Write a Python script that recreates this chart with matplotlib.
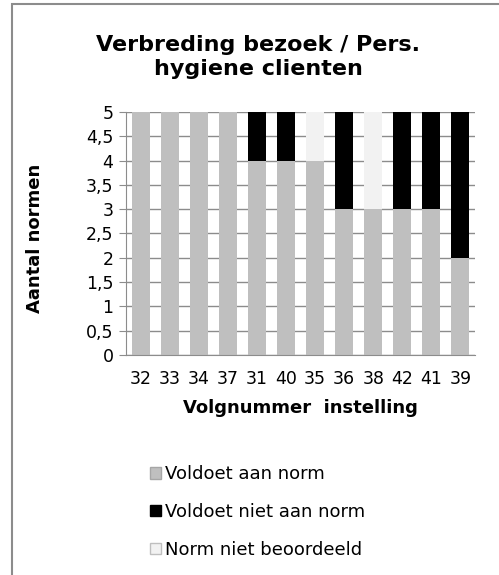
import numpy as np
import matplotlib
matplotlib.use("Agg")
import matplotlib.pyplot as plt
from matplotlib.patches import Rectangle, Patch

instellingen = ['32', '33', '34', '37', '31', '40', '35', '36', '38', '42', '41', '39']
voldoet = [5, 5, 5, 5, 4, 4, 4, 3, 3, 3, 3, 2]
voldoet_niet = [0, 0, 0, 0, 1, 1, 0, 2, 0, 2, 2, 3]
niet_beoordeeld = [0, 0, 0, 0, 0, 0, 1, 0, 2, 0, 0, 0]
reeksen = ['Voldoet aan norm', 'Voldoet niet aan norm', 'Norm niet beoordeeld']
y_ticks = [0, 0.5, 1, 1.5, 2, 2.5, 3, 3.5, 4, 4.5, 5]
y_labels = ['0', '0,5', '1', '1,5', '2', '2,5', '3', '3,5', '4', '4,5', '5']

kleuren = ['#bfbfbf', 'black', '#f2f2f2']
randen = ['#a6a6a6', 'black', '#bfbfbf']

plt.rcParams['font.family'] = ['DejaVu Sans']

W, H = 499, 575
fig = plt.figure(figsize=(W / 100, H / 100), dpi=100)

# outer chart frame (runs off right/bottom edge)
fig.patches.append(Rectangle((12 / W, -0.1), 1.2, 1 - 4 / H + 0.1,
                             transform=fig.transFigure, fill=False,
                             edgecolor='#8c8c8c', lw=1.5))

ax = fig.add_axes([126 / W, 1 - 355 / H, (475 - 126) / W, (355 - 112) / H])

x = np.arange(len(instellingen))
b1 = np.array(voldoet)
b2 = b1 + np.array(voldoet_niet)
w = 0.62
ax.bar(x, voldoet, w, color=kleuren[0], zorder=2)
ax.bar(x, voldoet_niet, w, bottom=b1, color=kleuren[1], zorder=2)
ax.bar(x, niet_beoordeeld, w, bottom=b2, color=kleuren[2], zorder=2)

ax.set_xlim(-0.5, len(instellingen) - 0.5)
ax.set_ylim(0, 5)
ax.set_yticks(y_ticks)
ax.set_yticklabels(y_labels)
ax.set_xticks(x)
ax.set_xticklabels(instellingen)
ax.tick_params(axis='y', length=5, color='#8c8c8c', labelsize=12.5, pad=4)
ax.tick_params(axis='x', length=0, labelsize=12.5, pad=11)
ax.grid(axis='y', color='#8c8c8c', lw=1, zorder=1)
for s in ['top', 'right']:
    ax.spines[s].set_visible(False)
for s in ['left', 'bottom']:
    ax.spines[s].set_color('#8c8c8c')

ax.set_ylabel('Aantal normen', fontsize=13, fontweight='bold', va='center')
ax.yaxis.set_label_coords(-0.26, 0.48)
ax.set_xlabel('Volgnummer  instelling', fontsize=13, fontweight='bold', va='center')
ax.xaxis.set_label_coords(0.5, -0.218)

fig.text(258 / W, 1 - 57 / H, 'Verbreding bezoek / Pers.\nhygiene clienten',
         ha='center', va='center', fontsize=16, fontweight='bold', linespacing=1.2)

handles = [Patch(facecolor=c, edgecolor=e) for c, e in zip(kleuren, randen)]
fig.legend(handles, reeksen, loc='upper left', bbox_to_anchor=(143 / W, 1 - 458 / H),
           frameon=False, fontsize=13, handlelength=0.6, handleheight=0.6,
           handletextpad=0.2, labelspacing=1.1, borderaxespad=0)

fig.savefig('out.png', dpi=100)
